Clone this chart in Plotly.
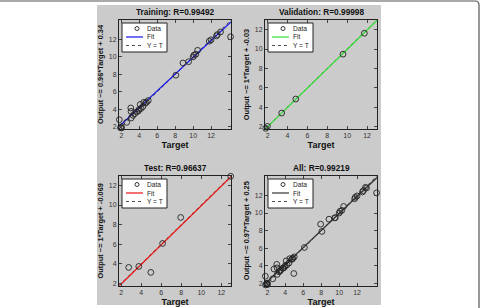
import plotly.graph_objects as go

# ---------------- data ----------------
train_target = [1.78, 1.9, 2.0, 2.02, 2.6, 3.05, 3.08, 3.1, 3.3, 3.5, 3.7, 3.9, 4.1, 4.0, 4.2, 4.4, 4.5, 4.7, 4.8, 5.0,
                8.08, 8.87, 9.5, 10.0, 10.1, 10.3, 10.5, 11.8, 12.0, 12.6, 12.7, 13.05, 14.17]
train_output = [2.8, 1.9, 2.0, 1.85, 2.5, 4.15, 3.75, 3.0, 3.3, 3.5, 3.7, 3.8, 4.55, 4.0, 4.1, 4.3, 4.8, 4.7, 4.8, 5.0,
                7.9, 9.3, 9.45, 10.0, 10.2, 10.3, 10.75, 11.8, 11.95, 12.4, 12.55, 12.85, 12.3]
val_target = [1.8, 1.97, 3.41, 4.83, 9.58, 11.73]
val_output = [1.8, 2.0, 3.38, 4.83, 9.47, 11.63]
test_target = [2.74, 3.75, 4.95, 6.13, 7.94, 12.94]
test_output = [3.62, 3.72, 3.11, 6.07, 8.73, 12.94]
all_target = train_target + val_target + test_target
all_output = train_output + val_output + test_output

panel_names = ["Training", "Validation", "Test", "All"]
panel_r = ["0.99492", "0.99998", "0.96637", "0.99219"]
fit_slope = [0.96, 1, 1, 0.97]
fit_intercept = [0.34, -0.03, -0.069, 0.25]
fit_slope_text = ["0.96", "1", "1", "0.97"]
fit_intercept_text = ["0.34", "-0.03", "-0.069", "0.25"]
axis_lo = [1.74, 1.73, 1.77, 1.74]
axis_hi = [14.22, 13.0, 12.97, 14.22]
tick_vals = [2, 4, 6, 8, 10, 12]
legend_labels = ["Data", "Fit", "Y = T"]

targets = [train_target, val_target, test_target, all_target]
outputs = [train_output, val_output, test_output, all_output]
fit_colors = ["#1010ee", "#33dd33", "#ee1111", "#333333"]

# ---------------- layout geometry (pixels) ----------------
W, H = 480, 308
boxes = [(119, 231, 20, 129), (265, 377, 20, 129), (119, 231, 176, 285.5), (265, 377, 176, 285.5)]
FONT = "Liberation Sans, Arial, sans-serif"

def px(x):
    return x / W

def py(y):
    return 1 - y / H

fig = go.Figure()
layout_updates = {}
annotations = []
shapes = [
    dict(type="rect", xref="paper", yref="paper", x0=px(97), x1=px(381), y0=py(305), y1=py(5),
         fillcolor="#cbcbcb", line=dict(width=0), layer="below"),
    dict(type="path", xref="paper", yref="paper",
         path=f"M 0 {py(1)} L {px(475)} {py(1)} Q {px(479)} {py(1)} {px(479)} {py(5)} L {px(479)} 0",
         line=dict(color="#555", width=1.2)),
]

for i in range(4):
    xa = "x" if i == 0 else f"x{i+1}"
    ya = "y" if i == 0 else f"y{i+1}"
    lo, hi = axis_lo[i], axis_hi[i]
    fig.add_trace(go.Scatter(
        x=[lo, hi], y=[lo, hi], mode="lines", name="Y = T",
        line=dict(color="#222222", width=0.8, dash="dot"),
        xaxis=xa, yaxis=ya, showlegend=False))
    fig.add_trace(go.Scatter(
        x=[lo, hi], y=[fit_slope[i] * lo + fit_intercept[i], fit_slope[i] * hi + fit_intercept[i]],
        mode="lines", name="Fit", line=dict(color=fit_colors[i], width=1.2),
        xaxis=xa, yaxis=ya, showlegend=False))
    fig.add_trace(go.Scatter(
        x=targets[i], y=outputs[i], mode="markers", name="Data",
        marker=dict(symbol="circle-open", size=5.8, color="#222222", line=dict(width=0.9)),
        xaxis=xa, yaxis=ya, showlegend=False, cliponaxis=False))

    x0, x1, y0, y1 = boxes[i]
    axis_common = dict(
        range=[lo, hi], tickvals=tick_vals, ticks="inside", ticklen=3, tickcolor="#444",
        showline=True, linecolor="#222", linewidth=1, mirror="ticks", showgrid=False,
        zeroline=False, tickfont=dict(family=FONT, size=7, color="#333"),
    )
    kx = "xaxis" if i == 0 else f"xaxis{i+1}"
    ky = "yaxis" if i == 0 else f"yaxis{i+1}"
    layout_updates[kx] = dict(axis_common, domain=[px(x0), px(x1)], anchor=ya,
                              title=dict(text="<b>Target</b>", standoff=3,
                                         font=dict(family=FONT, size=9, color="#111")))
    layout_updates[ky] = dict(axis_common, domain=[py(y1), py(y0)], anchor=xa,
                              title=dict(text=f"<b>Output ~= {fit_slope_text[i]}*Target + {fit_intercept_text[i]}</b>",
                                         standoff=4,
                                         font=dict(family=FONT, size=7.4, color="#111")))
    annotations.append(dict(
        text=f"<b>{panel_names[i]}: R={panel_r[i]}</b>", x=px((x0 + x1) / 2), y=py(y0 - 8),
        xref="paper", yref="paper", showarrow=False, xanchor="center", yanchor="middle",
        font=dict(family=FONT, size=8.3, color="#111")))

    # legend box (drawn manually, MATLAB style)
    lx0, ly0 = x0 + 3, y0 + 3
    shapes.append(dict(type="rect", xref="paper", yref="paper",
                       x0=px(lx0), x1=px(lx0 + 45), y0=py(ly0 + 29), y1=py(ly0),
                       fillcolor="white", line=dict(color="#222", width=1)))
    rows = [ly0 + 5.5, ly0 + 14, ly0 + 22.5]
    # Data marker
    shapes.append(dict(type="circle", xref="paper", yref="paper",
                       x0=px(lx0 + 13), x1=px(lx0 + 17), y0=py(rows[0] + 2), y1=py(rows[0] - 2),
                       line=dict(color="#222", width=0.9)))
    # Fit line sample
    shapes.append(dict(type="line", xref="paper", yref="paper",
                       x0=px(lx0 + 4), x1=px(lx0 + 21), y0=py(rows[1]), y1=py(rows[1]),
                       line=dict(color=fit_colors[i], width=1.2)))
    # Y=T sample
    shapes.append(dict(type="line", xref="paper", yref="paper",
                       x0=px(lx0 + 4), x1=px(lx0 + 21), y0=py(rows[2]), y1=py(rows[2]),
                       line=dict(color="#222", width=0.8, dash="dot")))
    for r, lab in zip(rows, legend_labels):
        annotations.append(dict(text=lab, x=px(lx0 + 23), y=py(r), xref="paper", yref="paper",
                                showarrow=False, xanchor="left", yanchor="middle",
                                font=dict(family=FONT, size=6.6, color="#222")))

fig.update_layout(
    width=W, height=H, margin=dict(l=0, r=0, t=0, b=0),
    paper_bgcolor="white", plot_bgcolor="white",
    annotations=annotations, shapes=shapes, **layout_updates)

fig.write_html("out.html")
